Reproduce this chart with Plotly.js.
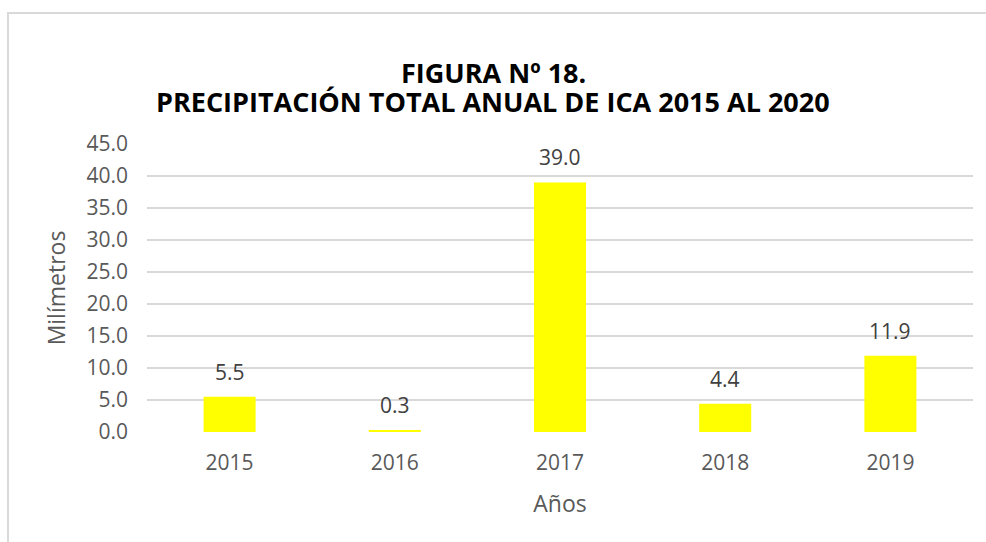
<!DOCTYPE html>
<html>
<head>
<meta charset="utf-8">
<script src="https://cdn.plot.ly/plotly-3.0.1.min.js"></script>
<style>
  html, body { margin: 0; padding: 0; background: #fff; }
  #wrap { position: relative; width: 986px; height: 542px; overflow: hidden; }
  #chart { width: 986px; height: 542px; }
  #frame { position: absolute; left: 7px; top: 12px; width: 1000px; height: 600px;
           border: 2px solid #d9d9d9; pointer-events: none; }
</style>
</head>
<body>
<div id="wrap">
  <div id="chart"></div>
  <div id="frame"></div>
</div>
<script>
const years = ['2015', '2016', '2017', '2018', '2019'];
const precipitation = [5.5, 0.3, 39.0, 4.4, 11.9];
const yTicks = [0, 5, 10, 15, 20, 25, 30, 35, 40, 45];
const titleLine1 = 'FIGURA Nº 18.';
const titleLine2 = 'PRECIPITACIÓN TOTAL ANUAL DE ICA 2015 AL 2020';
const xTitle = 'Años';
const yTitle = 'Milímetros';

const tickFont = { family: 'Open Sans, sans-serif', size: 21, color: '#595959' };

const trace = {
  type: 'bar',
  x: years,
  y: precipitation,
  marker: { color: '#FFFF00', line: { width: 0 } },
  hoverinfo: 'x+y'
};

// category axis: annotation x given as category index
const labelAnnotations = years.map((yr, i) => ({
  x: i, y: precipitation[i], xref: 'x', yref: 'y',
  text: precipitation[i].toFixed(1),
  showarrow: false, yanchor: 'middle', yshift: 25,
  font: { family: 'Open Sans, sans-serif', size: 21, color: '#404040' }
}));

const titleFont = { family: 'Open Sans, sans-serif', size: 27, color: '#000000', weight: 'bold' };

const layout = {
  width: 986, height: 542,
  margin: { l: 147, r: 13, t: 144, b: 110 },
  paper_bgcolor: '#ffffff', plot_bgcolor: '#ffffff',
  showlegend: false,
  bargap: 0.685,
  xaxis: {
    type: 'category', range: [-0.5, years.length - 0.5], autorange: false,
    showgrid: false, zeroline: false, showline: false, ticks: '',
    tickfont: tickFont, ticklabelstandoff: 16,
    title: { text: xTitle, font: { family: 'Open Sans, sans-serif', size: 23, color: '#595959' }, standoff: 20 },
    automargin: false
  },
  yaxis: {
    range: [0, 45], autorange: false, tickvals: yTicks, tickformat: '.1f',
    showgrid: true, gridcolor: '#d9d9d9', gridwidth: 1.5,
    zeroline: false, showline: false, ticks: '',
    tickfont: tickFont, ticklabelstandoff: 18,
    title: { text: yTitle, font: { family: 'Open Sans, sans-serif', size: 23, color: '#595959' }, standoff: 14 },
    automargin: false
  },
  annotations: [
    { text: '<b>' + titleLine1 + '</b>', xref: 'paper', yref: 'paper',
      x: (493 - 147) / 826, y: 1 + (144 - 72) / 288, xanchor: 'center', yanchor: 'middle',
      showarrow: false, font: titleFont },
    { text: '<b>' + titleLine2 + '</b>', xref: 'paper', yref: 'paper',
      x: (493 - 147) / 826, y: 1 + (144 - 101) / 288, xanchor: 'center', yanchor: 'middle',
      showarrow: false, font: titleFont }
  ].concat(labelAnnotations)
};

Plotly.newPlot('chart', [trace], layout, { displayModeBar: false, staticPlot: true });
</script>
</body>
</html>
